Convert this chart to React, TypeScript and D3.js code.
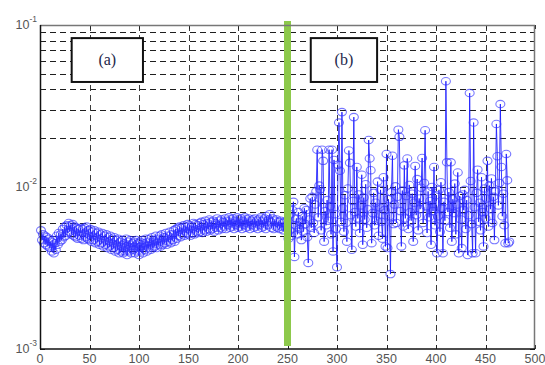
import * as d3 from "d3";
import { useEffect, useRef } from "react";

// values in units of 1e-3, sample index starts at 1
const valuesA = [
  5.4, 4.7, 5.1, 4.5, 5.0, 4.4, 4.9, 4.3, 4.8, 4.2,
  4.6, 4.0, 4.7, 3.9, 4.5, 4.1, 5.0, 4.4, 5.2, 4.6,
  5.1, 4.7, 5.5, 4.9, 5.7, 5.0, 5.8, 5.2, 6.0, 5.3,
  5.8, 5.1, 5.9, 5.0, 5.7, 4.9, 5.6, 4.8, 5.5, 5.0,
  5.6, 4.8, 5.5, 4.7, 5.6, 4.9, 5.7, 4.8, 5.4, 4.7,
  5.5, 4.6, 5.3, 4.7, 5.4, 4.5, 5.2, 4.6, 5.3, 4.4,
  5.1, 4.5, 5.2, 4.3, 5.0, 4.4, 5.1, 4.2, 4.9, 4.3,
  5.0, 4.1, 4.8, 4.2, 4.9, 4.0, 4.7, 4.1, 4.8, 3.9,
  4.6, 4.0, 4.7, 3.9, 4.5, 4.0, 4.8, 3.8, 4.6, 4.0,
  4.7, 3.9, 4.5, 4.1, 4.6, 3.9, 4.7, 4.0, 4.5, 3.8,
  4.6, 4.0, 4.7, 3.9, 4.5, 4.1, 4.8, 4.0, 4.6, 4.2,
  4.8, 4.1, 4.9, 4.2, 4.7, 4.3, 5.0, 4.2, 4.8, 4.4,
  5.0, 4.3, 5.1, 4.4, 4.9, 4.5, 5.2, 4.4, 5.0, 4.6,
  5.3, 4.5, 5.1, 4.7, 5.4, 4.6, 5.5, 4.8, 5.6, 5.0,
  5.7, 4.9, 5.6, 5.1, 5.8, 5.0, 5.7, 5.2, 5.9, 5.1,
  5.8, 5.0, 5.7, 5.2, 6.0, 5.1, 5.9, 5.3, 5.8, 5.2,
  6.0, 5.3, 6.1, 5.2, 5.9, 5.4, 6.2, 5.3, 6.0, 5.5,
  6.3, 5.4, 6.1, 5.5, 6.2, 5.3, 6.0, 5.6, 6.4, 5.4,
  6.2, 5.6, 6.3, 5.5, 6.1, 5.7, 6.4, 5.5, 6.2, 5.8,
  6.5, 5.6, 6.3, 5.7, 6.4, 5.5, 6.2, 5.8, 6.5, 5.6,
  6.3, 5.7, 6.4, 5.5, 6.2, 5.8, 6.5, 5.6, 6.3, 5.7,
  6.4, 5.5, 6.2, 5.8, 6.3, 5.6, 6.4, 5.7, 6.2, 5.5,
  6.3, 5.8, 6.5, 5.6, 6.2, 5.7, 6.4, 5.5, 6.6, 5.8,
  6.3, 6.8, 6.1, 5.6, 6.4, 5.5, 6.2, 5.7, 6.3, 5.6,
  6.1, 5.5, 6.2, 5.7, 6.0, 5.4, 6.1, 5.6,
];

// continues right after valuesA (sample 249 onwards)
const valuesB = [
  5.6, 6.2, 4.8, 5.4, 6.8, 5.0, 7.2, 8.1, 3.7, 5.8,
  6.4, 5.1, 7.0, 5.5, 6.1, 4.7, 6.6, 5.3, 7.4, 5.9,
  7.2, 4.9, 3.4, 6.3, 8.5, 5.6, 8.7, 6.0, 5.2, 7.8,
  9.4, 17.0, 6.5, 10.2, 9.7, 5.4, 17.0, 14.5, 4.6, 7.1,
  5.8, 8.3, 6.2, 17.0, 7.6, 5.1, 17.0, 4.0, 14.7, 6.8,
  5.5, 3.2, 13.7, 25.0, 12.6, 6.1, 29.0, 7.4, 5.3, 8.9,
  6.0, 4.6, 9.8, 16.8, 14.1, 6.7, 4.1, 8.2, 27.0, 7.0,
  5.7, 13.3, 6.4, 9.0, 5.2, 7.7, 11.9, 4.4, 8.6, 6.3,
  10.4, 5.6, 7.3, 19.5, 15.0, 12.7, 4.5, 6.9, 9.2, 5.8,
  8.0, 6.2, 10.8, 5.0, 7.5, 9.6, 6.1, 4.8, 11.5, 7.2,
  4.3, 16.0, 4.2, 8.4, 6.6, 2.9, 9.3, 15.6, 5.9, 7.8,
  10.1, 6.0, 8.7, 22.6, 20.4, 7.1, 4.3, 9.5, 5.7, 13.6,
  6.4, 8.8, 15.0, 5.5, 10.3, 7.0, 6.2, 9.1, 4.6, 8.0,
  13.5, 6.7, 11.2, 5.4, 8.5, 7.3, 9.9, 15.1, 6.0, 10.6,
  22.4, 7.6, 5.2, 9.4, 6.5, 8.2, 4.4, 10.0, 7.1, 13.3,
  5.8, 8.9, 3.9, 6.6, 9.6, 5.3, 10.7, 7.4, 3.9, 8.1,
  6.2, 45.0, 14.2, 7.0, 9.3, 5.6, 14.2, 4.6, 8.4, 6.9,
  10.5, 5.1, 7.8, 12.3, 3.9, 8.8, 6.3, 4.2, 9.0, 7.2,
  9.6, 5.5, 8.3, 3.8, 6.7, 38.0, 10.9, 5.9, 3.9, 25.0,
  7.5, 3.9, 9.2, 12.8, 6.1, 8.0, 5.4, 11.5, 7.0, 4.3,
  9.8, 6.4, 8.5, 14.5, 5.7, 10.2, 7.3, 11.3, 6.0, 8.7,
  4.7, 9.4, 24.5, 15.5, 7.7, 10.6, 32.5, 13.3, 6.6, 9.1,
  5.8, 4.5, 16.0, 11.0, 4.5, 4.6,
];

const xTicks = [0, 50, 100, 150, 200, 250, 300, 350, 400, 450, 500];
const yDecades = [-3, -2, -1];
const splitAt = 250;

const boxes = [
  { label: "(a)", x0: 32, x1: 104, v0: 0.083, v1: 0.0445 },
  { label: "(b)", x0: 273.5, x1: 340.5, v0: 0.083, v1: 0.0445 },
];

function App() {
  const ref = useRef<SVGSVGElement>(null);

  useEffect(() => {
    const width = 545;
    const height = 365;
    const margin = { top: 25, right: 10, bottom: 16, left: 40 };
    const innerWidth = width - margin.left - margin.right;
    const innerHeight = height - margin.top - margin.bottom;

    const svg = d3.select(ref.current);
    svg.selectAll("*").remove();
    svg.attr("width", width).attr("height", height);

    const x = d3.scaleLinear().domain([0, 500]).range([0, innerWidth]);
    const y = d3.scaleLog().domain([1e-3, 1e-1]).range([innerHeight, 0]);

    const g = svg
      .append("g")
      .attr("transform", `translate(${margin.left},${margin.top})`);

    const data = [
      ...valuesA.map((v, i) => ({ i: i + 1, v: v * 1e-3 })),
      ...valuesB.map((v, i) => ({ i: valuesA.length + 1 + i, v: v * 1e-3 })),
    ];

    // log ticks (1..9 per decade)
    const logTicks: number[] = [];
    yDecades.slice(0, 2).forEach((d) => {
      for (let k = 1; k < 10; k++) logTicks.push(k * Math.pow(10, d));
    });
    logTicks.push(1e-1);

    const grid = g.append("g").attr("stroke", "#1e1e1e").attr("stroke-width", 1)
      .attr("stroke-dasharray", "6,4").attr("fill", "none");
    logTicks
      .filter((t) => t > 1e-3 && t < 1e-1)
      .forEach((t) => {
        grid.append("line").attr("x1", 0).attr("x2", innerWidth)
          .attr("y1", Math.round(y(t)) + 0.5).attr("y2", Math.round(y(t)) + 0.5);
      });
    xTicks.slice(1, -1).forEach((t) => {
      grid.append("line").attr("stroke", "#3a3a3a")
        .attr("x1", Math.round(x(t)) + 0.5).attr("x2", Math.round(x(t)) + 0.5)
        .attr("y1", 0).attr("y2", innerHeight);
    });

    // small tick marks
    const ticks = g.append("g").attr("stroke", "#222").attr("stroke-width", 1);
    logTicks.forEach((t) => {
      const yy = Math.round(y(t)) + 0.5;
      const len = [1e-3, 1e-2, 1e-1].includes(t) ? 5 : 3;
      ticks.append("line").attr("x1", 0).attr("x2", len).attr("y1", yy).attr("y2", yy);
      ticks.append("line").attr("x1", innerWidth - len).attr("x2", innerWidth).attr("y1", yy).attr("y2", yy);
    });
    xTicks.forEach((t) => {
      const xx = Math.round(x(t)) + 0.5;
      ticks.append("line").attr("x1", xx).attr("x2", xx).attr("y1", 0).attr("y2", 4);
      ticks.append("line").attr("x1", xx).attr("x2", xx).attr("y1", innerHeight - 4).attr("y2", innerHeight);
    });

    // annotation boxes
    boxes.forEach((b) => {
      g.append("rect")
        .attr("x", x(b.x0)).attr("y", y(b.v0))
        .attr("width", x(b.x1) - x(b.x0)).attr("height", y(b.v1) - y(b.v0))
        .attr("fill", "#fff").attr("stroke", "#111").attr("stroke-width", 2);
      g.append("text")
        .attr("x", (x(b.x0) + x(b.x1)) / 2)
        .attr("y", (y(b.v0) + y(b.v1)) / 2 + 5)
        .attr("text-anchor", "middle")
        .attr("font-family", "'Liberation Serif', 'DejaVu Serif', serif")
        .attr("font-size", 16)
        .attr("fill", "#22264a")
        .text(b.label);
    });

    // series line
    const line = d3.line<{ i: number; v: number }>()
      .x((d) => x(d.i))
      .y((d) => y(d.v));
    g.append("path")
      .datum(data)
      .attr("d", line)
      .attr("fill", "none")
      .attr("stroke", "#1a1aff")
      .attr("stroke-opacity", 0.85)
      .attr("stroke-width", 1);

    // markers
    g.append("g")
      .selectAll("ellipse")
      .data(data)
      .enter()
      .append("ellipse")
      .attr("cx", (d) => x(d.i))
      .attr("cy", (d) => y(d.v))
      .attr("rx", 4.5)
      .attr("ry", 3.7)
      .attr("fill", "none")
      .attr("stroke", "#3030ff")
      .attr("stroke-opacity", 0.65)
      .attr("stroke-width", 1.1);

    // separator bar
    g.append("rect")
      .attr("x", x(splitAt) - 3.5)
      .attr("y", -4)
      .attr("width", 7)
      .attr("height", innerHeight + 1)
      .attr("fill", "#8dc94b");

    // frame
    g.append("line").attr("x1", 0).attr("x2", innerWidth).attr("y1", 0.5).attr("y2", 0.5)
      .attr("stroke", "#777").attr("stroke-width", 1.5);
    g.append("line").attr("x1", innerWidth - 0.5).attr("x2", innerWidth - 0.5).attr("y1", 0).attr("y2", innerHeight)
      .attr("stroke", "#777").attr("stroke-width", 1.5);
    g.append("line").attr("x1", 0.5).attr("x2", 0.5).attr("y1", 0).attr("y2", innerHeight)
      .attr("stroke", "#111").attr("stroke-width", 1.5);
    g.append("line").attr("x1", 0).attr("x2", innerWidth).attr("y1", innerHeight).attr("y2", innerHeight)
      .attr("stroke", "#111").attr("stroke-width", 1.5);

    // x labels
    const font = "'Liberation Sans', Arial, sans-serif";
    xTicks.forEach((t) => {
      g.append("text")
        .attr("x", x(t))
        .attr("y", innerHeight + 14)
        .attr("text-anchor", "middle")
        .attr("font-family", font)
        .attr("font-size", 12.5)
        .attr("fill", "#555")
        .text(t);
    });

    // y labels 10^n
    yDecades.forEach((d) => {
      const yy = y(Math.pow(10, d));
      const t = g.append("text")
        .attr("x", -3)
        .attr("y", yy + 4)
        .attr("text-anchor", "end")
        .attr("font-family", font)
        .attr("font-size", 12.5)
        .attr("fill", "#555");
      t.append("tspan").text("10");
      t.append("tspan").attr("dy", -7).attr("font-size", 8.5).text(d);
    });
  }, []);

  return (
    <svg ref={ref} style={{ position: "absolute", left: 0, top: 0 }}></svg>
  );
}

export default App;
